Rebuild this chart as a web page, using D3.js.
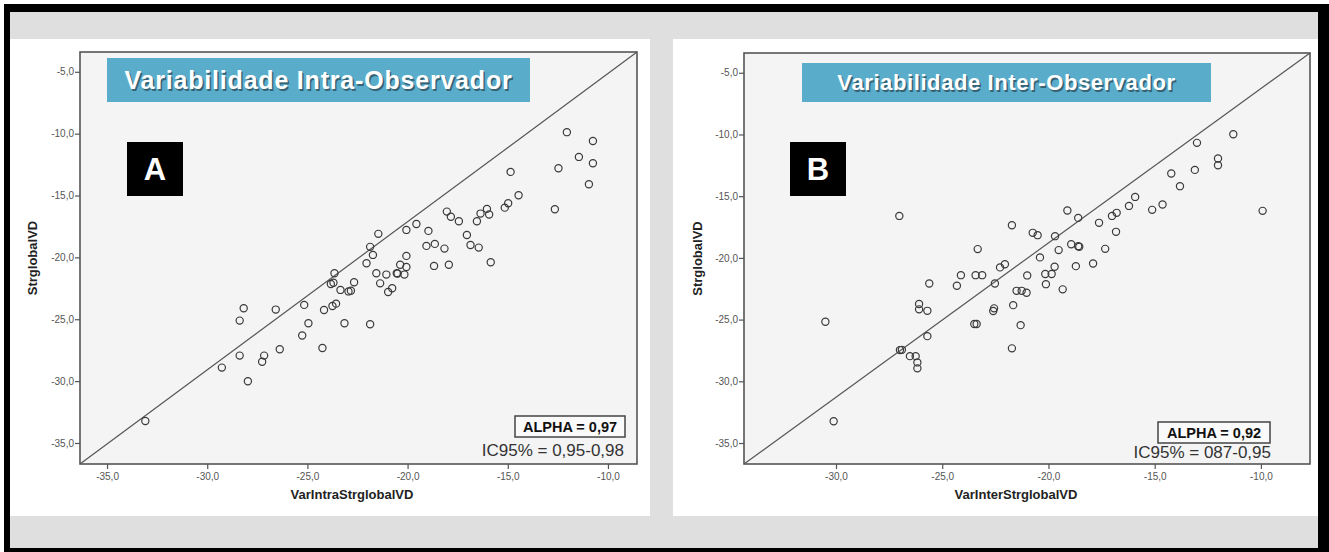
<!DOCTYPE html>
<html>
<head>
<meta charset="utf-8">
<script src="https://cdn.jsdelivr.net/npm/d3@7"></script>
<style>
  html, body { margin: 0; padding: 0; background: #fff; }
  svg { display: block; font-family: "Liberation Sans", Arial, sans-serif; }
</style>
</head>
<body>
<svg id="chart" width="1329" height="552"></svg>
<script>
// ---------- data ----------
const tickValuesY = [-35, -30, -25, -20, -15, -10, -5];
const tickValuesXA = [-35, -30, -25, -20, -15, -10];
const tickValuesXB = [-30, -25, -20, -15, -10];

const intraX = [-12.05,-10.75,-11.45,-10.75,-12.47,-10.95,-14.86,-14.46,-14.98,-15.15,-12.65,-16.04,-16.36,-15.93,-16.54,-18.04,-17.84,-17.44,-17.04,-16.86,-16.45,-15.85,-19.56,-20.06,-18.96,-21.46,-19.06,-18.64,-18.16,-21.87,-21.73,-22.05,-20.06,-20.37,-20.06,-18.68,-17.94,-21.56,-21.06,-20.54,-20.16,-21.37,-20.77,-20.97,-23.65,-23.83,-23.70,-22.67,-23.35,-22.83,-22.95,-25.16,-24.17,-23.75,-23.57,-24.95,-23.15,-21.87,-25.26,-24.25,-26.58,-28.18,-28.38,-26.38,-28.38,-27.16,-27.26,-29.27,-27.97,-33.09,-20.50];
const intraY = [-9.88,-10.59,-11.88,-12.39,-12.79,-14.09,-13.09,-14.98,-15.62,-15.98,-16.11,-16.08,-16.46,-16.54,-17.08,-16.30,-16.71,-17.08,-18.19,-19.00,-19.21,-20.39,-17.30,-17.78,-17.86,-18.10,-19.07,-18.91,-19.29,-19.15,-19.80,-20.47,-19.88,-20.59,-20.77,-20.69,-20.59,-21.28,-21.39,-21.28,-21.39,-22.10,-22.50,-22.80,-21.28,-22.15,-22.05,-22.01,-22.63,-22.69,-22.75,-23.84,-24.25,-23.93,-23.74,-25.32,-25.32,-25.40,-26.32,-27.32,-24.22,-24.11,-25.11,-27.43,-27.94,-27.94,-28.43,-28.91,-30.01,-33.22,-21.30];

const interX = [-11.30,-13.01,-12.02,-12.02,-13.11,-14.22,-13.81,-9.92,-15.92,-16.21,-15.12,-14.63,-16.79,-17.01,-16.82,-17.62,-17.33,-17.90,-19.11,-18.60,-19.69,-21.72,-20.74,-20.51,-18.93,-18.60,-18.55,-19.52,-20.40,-18.71,-19.71,-19.85,-20.15,-21.00,-22.05,-22.28,-22.52,-20.12,-19.33,-21.50,-21.26,-21.03,-21.66,-22.56,-22.60,-21.31,-21.72,-23.33,-24.12,-23.43,-23.12,-25.61,-24.31,-26.09,-26.09,-25.70,-23.49,-23.38,-30.50,-25.70,-26.99,-26.90,-26.52,-26.25,-26.17,-26.17,-30.11,-27.02];
const interY = [-9.98,-10.68,-11.95,-12.49,-12.87,-13.16,-14.19,-16.19,-15.06,-15.79,-16.11,-15.67,-16.35,-16.60,-17.89,-17.16,-19.27,-20.45,-16.16,-16.76,-18.24,-17.35,-17.97,-18.16,-18.89,-19.05,-19.10,-19.37,-19.96,-20.67,-20.72,-21.31,-21.31,-21.42,-20.51,-20.77,-22.07,-22.13,-22.55,-22.67,-22.67,-22.83,-23.83,-24.09,-24.30,-25.45,-27.33,-19.29,-21.40,-21.40,-21.40,-22.07,-22.26,-23.74,-24.17,-24.29,-25.36,-25.36,-25.18,-26.34,-27.47,-27.45,-27.96,-27.96,-28.47,-28.95,-33.24,-16.60];

const titles = ["Variabilidade Intra-Observador", "Variabilidade Inter-Observador"];
const letters = ["A", "B"];
const xLabels = ["VarIntraStrglobalVD", "VarInterStrglobalVD"];
const yLabel = "StrglobalVD";
const alphaTexts = ["ALPHA = 0,97", "ALPHA = 0,92"];
const icTexts = ["IC95% = 0,95-0,98", "IC95% = 087-0,95"];

// ---------- drawing ----------
const svg = d3.select("#chart");
const loc = d3.formatLocale({decimal: ",", thousands: ".", grouping: [3], currency: ["", ""], minus: "-"});
const fmt = loc.format(".1f");

// outer frame
svg.append("rect").attr("x", 4).attr("y", 4).attr("width", 1325).attr("height", 548).attr("fill", "#000");
svg.append("rect").attr("x", 10).attr("y", 12).attr("width", 1308).attr("height", 536).attr("fill", "#dfdfdf");

const panels = [
  {
    white: [10, 39, 640, 477],
    xs: intraX, ys: intraY,
    xDomain: [-36.35, -8.55], xRange: [80, 637],
    yDomain: [-36.7, -3.4], yRange: [464, 52],
    xTicks: tickValuesXA,
    titleBox: [107, 58, 423, 44], titleSize: 25, titleSpacing: 0.8,
    letterBox: [127, 142, 56, 54],
    yLabelX: 37, xLabelX: 352,
    alphaBox: [515, 416, 110, 21], icRight: 624, icY: 456
  },
  {
    white: [673, 39, 645, 477],
    xs: interX, ys: interY,
    xDomain: [-34.33, -7.69], xRange: [744, 1310],
    yDomain: [-36.7, -3.4], yRange: [464, 53],
    xTicks: tickValuesXB,
    titleBox: [802, 63, 409, 39], titleSize: 22, titleSpacing: 0.6,
    letterBox: [790, 142, 56, 54],
    yLabelX: 702, xLabelX: 1016,
    alphaBox: [1158, 422, 112, 21], icRight: 1271, icY: 458
  }
];

panels.forEach((p, i) => {
  const g = svg.append("g");
  g.append("rect").attr("x", p.white[0]).attr("y", p.white[1]).attr("width", p.white[2]).attr("height", p.white[3]).attr("fill", "#fff");

  const x = d3.scaleLinear().domain(p.xDomain).range(p.xRange);
  const y = d3.scaleLinear().domain(p.yDomain).range(p.yRange);

  // plot area
  g.append("rect")
    .attr("x", p.xRange[0]).attr("y", p.yRange[1])
    .attr("width", p.xRange[1] - p.xRange[0]).attr("height", p.yRange[0] - p.yRange[1])
    .attr("fill", "#f4f4f4");

  // reference line corner to corner
  g.append("line")
    .attr("x1", x(p.xDomain[0])).attr("y1", y(p.yDomain[0]))
    .attr("x2", x(p.xDomain[1])).attr("y2", y(p.yDomain[1]))
    .attr("stroke", "#555").attr("stroke-width", 1.2);

  // title box
  g.append("rect").attr("x", p.titleBox[0]).attr("y", p.titleBox[1]).attr("width", p.titleBox[2]).attr("height", p.titleBox[3]).attr("fill", "#5aadca");
  const tx = p.titleBox[0] + p.titleBox[2] / 2, ty = p.titleBox[1] + p.titleBox[3] / 2 + p.titleSize * 0.36;
  g.append("text").attr("x", tx + 1.5).attr("y", ty + 1.5).attr("text-anchor", "middle")
    .attr("font-size", p.titleSize).attr("letter-spacing", p.titleSpacing).attr("font-weight", "bold")
    .attr("fill", "#2a4a58").attr("opacity", 0.75).text(titles[i]);
  g.append("text").attr("x", tx).attr("y", ty).attr("text-anchor", "middle")
    .attr("font-size", p.titleSize).attr("letter-spacing", p.titleSpacing).attr("font-weight", "bold")
    .attr("fill", "#fff").text(titles[i]);

  // letter box
  g.append("rect").attr("x", p.letterBox[0]).attr("y", p.letterBox[1]).attr("width", p.letterBox[2]).attr("height", p.letterBox[3]).attr("fill", "#000");
  g.append("text").attr("x", p.letterBox[0] + p.letterBox[2] / 2).attr("y", p.letterBox[1] + p.letterBox[3] / 2 + 11)
    .attr("text-anchor", "middle").attr("font-size", 31).attr("font-weight", "bold").attr("fill", "#fff").text(letters[i]);

  // points
  const pts = p.xs.map((v, k) => [v, p.ys[k]]);
  g.append("g").selectAll("circle").data(pts).join("circle")
    .attr("cx", d => x(d[0])).attr("cy", d => y(d[1])).attr("r", 3.6)
    .attr("fill", "none").attr("stroke", "#3a3a3a").attr("stroke-width", 1.2);

  // frame
  g.append("rect")
    .attr("x", p.xRange[0]).attr("y", p.yRange[1])
    .attr("width", p.xRange[1] - p.xRange[0]).attr("height", p.yRange[0] - p.yRange[1])
    .attr("fill", "none").attr("stroke", "#555").attr("stroke-width", 1.6);

  // axes
  const ya = g.append("g").attr("transform", `translate(${p.xRange[0]},0)`)
    .call(d3.axisLeft(y).tickValues(tickValuesY).tickFormat(fmt).tickSize(5).tickSizeOuter(0));
  const xa = g.append("g").attr("transform", `translate(0,${p.yRange[0]})`)
    .call(d3.axisBottom(x).tickValues(p.xTicks).tickFormat(fmt).tickSize(5).tickSizeOuter(0));
  [ya, xa].forEach(a => {
    a.select(".domain").remove();
    a.selectAll(".tick line").attr("stroke", "#555").attr("stroke-width", 1.2);
    a.selectAll(".tick text").attr("fill", "#555").attr("font-size", 10).attr("font-family", "'Liberation Sans', Arial, sans-serif");
  });
  ya.selectAll(".tick text").attr("x", -6);
  xa.selectAll(".tick text").attr("y", 9);

  // axis labels
  g.append("text").attr("transform", `translate(${p.yLabelX},${(p.yRange[0] + p.yRange[1]) / 2}) rotate(-90)`)
    .attr("text-anchor", "middle").attr("font-size", 13).attr("font-weight", "bold").attr("fill", "#222").text(yLabel);
  g.append("text").attr("x", p.xLabelX).attr("y", 499)
    .attr("text-anchor", "middle").attr("font-size", 13).attr("font-weight", "bold").attr("fill", "#222").text(xLabels[i]);

  // alpha box
  g.append("rect").attr("x", p.alphaBox[0]).attr("y", p.alphaBox[1]).attr("width", p.alphaBox[2]).attr("height", p.alphaBox[3])
    .attr("fill", "#fafafa").attr("stroke", "#444").attr("stroke-width", 1.5);
  g.append("text").attr("x", p.alphaBox[0] + p.alphaBox[2] / 2).attr("y", p.alphaBox[1] + 16)
    .attr("text-anchor", "middle").attr("font-size", 14.5).attr("font-weight", "bold").attr("fill", "#111").text(alphaTexts[i]);
  g.append("text").attr("x", p.icRight).attr("y", p.icY)
    .attr("text-anchor", "end").attr("font-size", 17).attr("fill", "#333").text(icTexts[i]);
});
</script>
</body>
</html>
